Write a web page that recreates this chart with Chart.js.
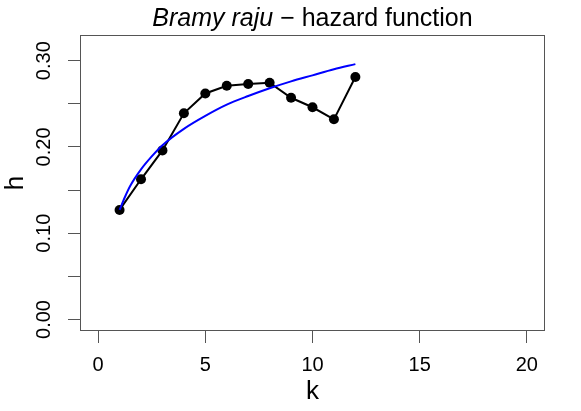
<!DOCTYPE html>
<html>
<head>
<meta charset="utf-8">
<script src="https://cdn.jsdelivr.net/npm/chart.js@4.4.1/dist/chart.umd.min.js"></script>
<style>
  html, body { margin: 0; padding: 0; background: #fff; }
  #wrap { width: 581px; height: 411px; }
</style>
</head>
<body>
<div id="wrap"><canvas id="hazardChart" width="581" height="411"></canvas></div>
<script>
// observed hazard per k
const kValues = [1, 2, 3, 4, 5, 6, 7, 8, 9, 10, 11, 12];
const hValues = [0.127, 0.1625, 0.196, 0.239, 0.262, 0.271, 0.273, 0.2745, 0.257, 0.246, 0.232, 0.281];

// fitted curve (blue)
const fitK = [1, 1.25, 1.5, 2, 2.5, 3, 4, 5, 6, 7, 8, 9, 10, 11, 12];
const fitH = [0.127, 0.142, 0.155, 0.174, 0.189, 0.202, 0.221, 0.236, 0.249, 0.259, 0.268, 0.276, 0.283, 0.290, 0.296];

const xTicks = [0, 5, 10, 15, 20];
const xTickLabels = ['0', '5', '10', '15', '20'];
const yTicks = [0, 0.05, 0.10, 0.15, 0.20, 0.25, 0.30];
const yTickLabels = ['0.00', '', '0.10', '', '0.20', '', '0.30'];

const titleItalic = 'Bramy raju';
const titleRest = ' \u2212 hazard function';

const FONT = '"Liberation Sans", Arial, Helvetica, sans-serif';
const AXIS_COLOR = '#555';

const frame = {
    id: 'frame',
    afterDraw(chart) {
        const ctx = chart.ctx;
        const a = chart.chartArea;
        ctx.save();
        ctx.strokeStyle = AXIS_COLOR;
        ctx.lineWidth = 1;
        ctx.strokeRect(a.left - 0.5, a.top - 0.5, a.right - a.left + 1, a.bottom - a.top + 1);

        // title with italic part
        ctx.fillStyle = '#000';
        ctx.textBaseline = 'alphabetic';
        const fItalic = 'italic 25px ' + FONT;
        const fNormal = '25px ' + FONT;
        ctx.font = fItalic;
        const w1 = ctx.measureText(titleItalic).width;
        ctx.font = fNormal;
        const w2 = ctx.measureText(titleRest).width;
        const cx = (a.left + a.right) / 2;
        const x0 = cx - (w1 + w2) / 2;
        ctx.font = fItalic;
        ctx.fillText(titleItalic, x0, 26);
        ctx.font = fNormal;
        ctx.fillText(titleRest, x0 + w1, 26);
        ctx.restore();
    }
};

new Chart(document.getElementById('hazardChart'), {
    type: 'line',
    data: {
        datasets: [{
            label: 'fit',
            data: fitK.map((k, i) => ({ x: k, y: fitH[i] })),
            borderColor: '#0000ff',
            borderWidth: 2,
            pointRadius: 0,
            cubicInterpolationMode: 'monotone',
            fill: false
        }, {
            label: 'h',
            data: kValues.map((k, i) => ({ x: k, y: hValues[i] })),
            borderColor: '#000',
            backgroundColor: '#000',
            borderWidth: 2,
            pointRadius: 5,
            pointBorderWidth: 0,
            tension: 0,
            fill: false
        }]
    },
    options: {
        responsive: false,
        animation: false,
        devicePixelRatio: 1,
        layout: { padding: { top: 36, right: 37, left: 0, bottom: 0 } },
        plugins: {
            legend: { display: false },
            tooltip: { enabled: false },
            title: { display: false }
        },
        scales: {
            x: {
                type: 'linear',
                min: -0.8,
                max: 20.8,
                afterFit: s => { s.height = 81; },
                afterBuildTicks: s => { s.ticks = xTicks.map(v => ({ value: v })); },
                grid: { drawOnChartArea: false, drawTicks: true, tickLength: 13, color: AXIS_COLOR },
                border: { display: false },
                ticks: {
                    autoSkip: false,
                    maxRotation: 0,
                    padding: 10,
                    color: '#000',
                    font: { family: FONT, size: 20 },
                    callback: (v, i) => xTickLabels[i]
                },
                title: {
                    display: true,
                    text: 'k',
                    color: '#000',
                    font: { family: FONT, size: 26 },
                    padding: { top: 0, bottom: 4 }
                }
            },
            y: {
                type: 'linear',
                min: -0.0122,
                max: 0.3286,
                afterFit: s => { s.width = 81; },
                afterBuildTicks: s => { s.ticks = yTicks.map(v => ({ value: v })); },
                grid: { drawOnChartArea: false, drawTicks: true, tickLength: 13, color: AXIS_COLOR },
                border: { display: false },
                ticks: {
                    autoSkip: false,
                    minRotation: 90,
                    maxRotation: 90,
                    crossAlign: 'center',
                    padding: 4,
                    color: '#000',
                    font: { family: FONT, size: 20 },
                    callback: (v, i) => yTickLabels[i]
                },
                title: {
                    display: true,
                    text: 'h',
                    color: '#000',
                    font: { family: FONT, size: 26 },
                    padding: { top: 0, bottom: 0 }
                }
            }
        }
    },
    plugins: [frame]
});
</script>
</body>
</html>
